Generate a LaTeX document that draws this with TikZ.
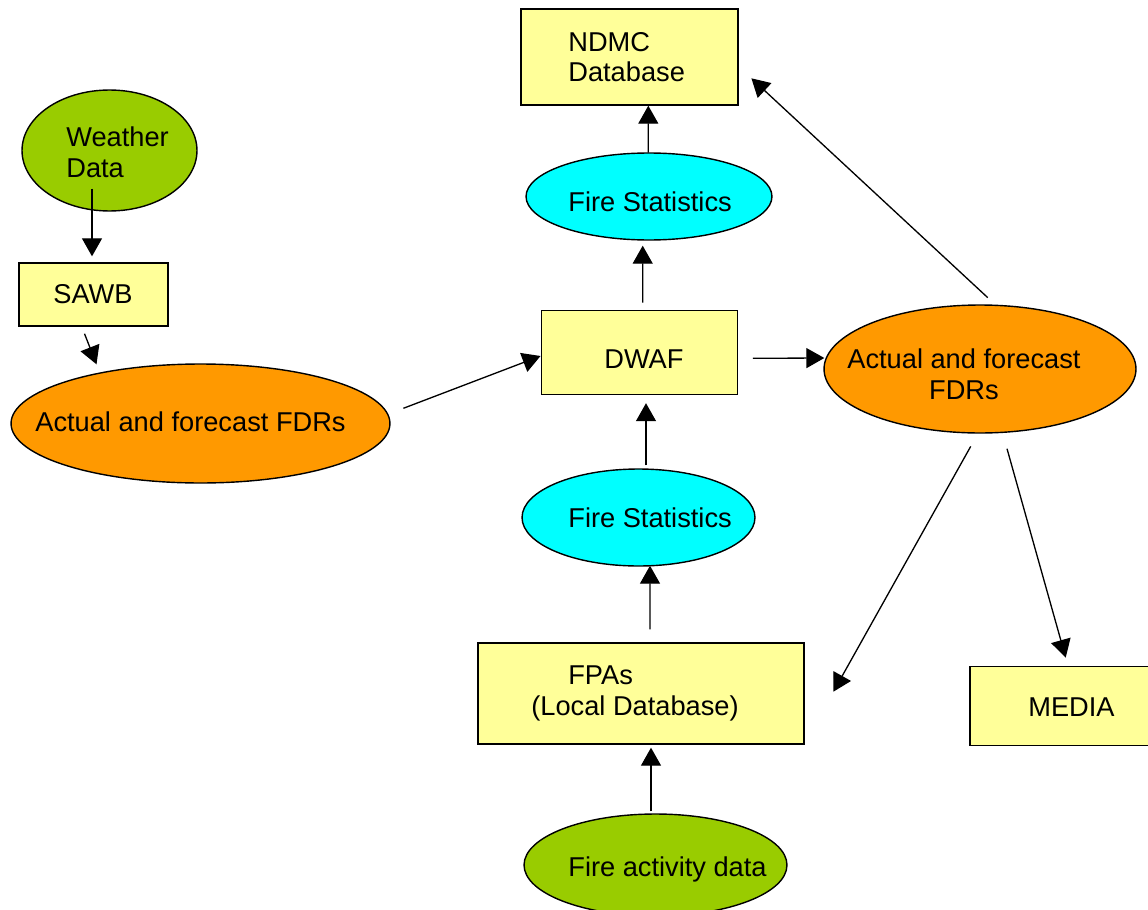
\documentclass[tikz,border=0pt]{standalone}
\usepackage{fontspec}
\setmainfont{Liberation Sans}
\usetikzlibrary{shapes.geometric,arrows.meta,calc}

\definecolor{leafgreen}{HTML}{99CC00}
\definecolor{paleyellow}{HTML}{FFFF99}
\definecolor{fireorange}{HTML}{FF9900}
\definecolor{statcyan}{HTML}{00FFFF}

\tikzset{
  box/.style={draw, line width=0.8pt, fill=paleyellow, inner sep=0pt},
  blob/.style={draw, ellipse, line width=0.8pt, inner sep=0pt},
  lbl/.style={anchor=north west, inner sep=0pt, align=left,
    font=\fontsize{15.5}{17.6}\selectfont},
  flow/.style={-{Triangle[length=0.36cm,width=0.4cm]}, line width=0.75pt},
}

\begin{document}
\begin{tikzpicture}[x=0.02cm, y=-0.02cm]
  \useasboundingbox (0,0) rectangle (1148,909);
  % shapes
  \node[blob, fill=leafgreen, minimum width=3.5cm, minimum height=2.42cm] (wx) at (109.5,150.5) {};
  \node[box, minimum width=2.98cm, minimum height=1.26cm] (sawb) at (93.5,294.5) {};
  \node[blob, fill=fireorange, minimum width=7.58cm, minimum height=2.38cm] (fdrL) at (200.5,423.5) {};
  \node[box, minimum width=4.34cm, minimum height=1.92cm] (ndmc) at (629.5,57) {};
  \node[blob, fill=statcyan, minimum width=4.92cm, minimum height=1.74cm] (statT) at (649,196.5) {};
  \node[box, minimum width=3.92cm, minimum height=1.68cm] (dwaf) at (639.5,352.5) {};
  \node[blob, fill=fireorange, minimum width=6.24cm, minimum height=2.56cm] (fdrR) at (980,369) {};
  \node[blob, fill=statcyan, minimum width=4.66cm, minimum height=1.94cm] (statB) at (638.5,517.5) {};
  \node[box, minimum width=6.52cm, minimum height=2.02cm] (fpa) at (641,693.5) {};
  \node[box, minimum width=3.64cm, minimum height=1.57cm] (media) at (1061,706) {};
  \node[blob, fill=leafgreen, minimum width=5.26cm, minimum height=2.04cm] (fad) at (655.5,865) {};
  % texts
  \node[lbl] (wxT) at (66,126.5) {Weather\\Data};
  \node[lbl] (sawbT) at (53,284) {SAWB};
  \node[lbl] (fdrLT) at (35,411.7) {Actual and forecast FDRs};
  \node[lbl] (ndmcT) at (568,31.7) {NDMC\\Database};
  \node[lbl] (statTT) at (568,191.7) {Fire Statistics};
  \node[lbl] (dwafT) at (604,349.3) {DWAF};
  \node[lbl, align=center] (fdrRT) at (847,348) {Actual and forecast\\FDRs};
  \node[lbl] (statBT) at (568,507.5) {Fire Statistics};
  \node[lbl] (fpaT) at (531,665) {\hspace*{0.74cm}FPAs\\(Local Database)};
  \node[lbl] (mediaT) at (1028,697.3) {MEDIA};
  \node[lbl] (fadT) at (568,856.7) {Fire activity data};
  % connectors
  \draw[flow] ($(wx.south)+(-17.5,-23)$) -- ($(sawb.north)+(-1.5,-6)$);
  \draw[flow] ($(sawb.south)+(-9,7)$) -- ($(fdrL.north)+(-104,1)$);
  \draw[flow] ($(fdrL.east)+(12.7,-15.2)$) -- ($(dwaf.west)+(-0.3,3.5)$);
  \draw[flow] ($(dwaf.east)+(14.7,5.8)$) -- ($(fdrR.west)+(1,-11)$);
  \draw[flow] ($(dwaf.north)+(3.2,-7.2)$) -- ($(statT.south)+(-6.3,5)$);
  \draw[flow] ($(statT.north)+(-0.7,0.3)$) -- ($(ndmc.south)+(18.8,0)$);
  \draw[flow] ($(fdrR.north)+(7.7,-6.7)$) -- ($(ndmc.east)+(12.7,21.3)$);
  \draw[flow] ($(statB.north)+(7.5,-3)$) -- ($(dwaf.south)+(6.5,8)$);
  \draw[flow] ($(fpa.north)+(9,-13)$) -- ($(statB.south)+(11.5,-1)$);
  \draw[flow] ($(fad.north)+(-4.5,-2)$) -- ($(fpa.south)+(10,3)$);
  \draw[flow] ($(fdrR.south)+(-9.3,12.7)$) -- ($(fpa.east)+(28.7,-1.8)$);
  \draw[flow] ($(fdrR.south)+(27,15)$) -- ($(media.north)+(4.7,-8.4)$);
\end{tikzpicture}
\end{document}
